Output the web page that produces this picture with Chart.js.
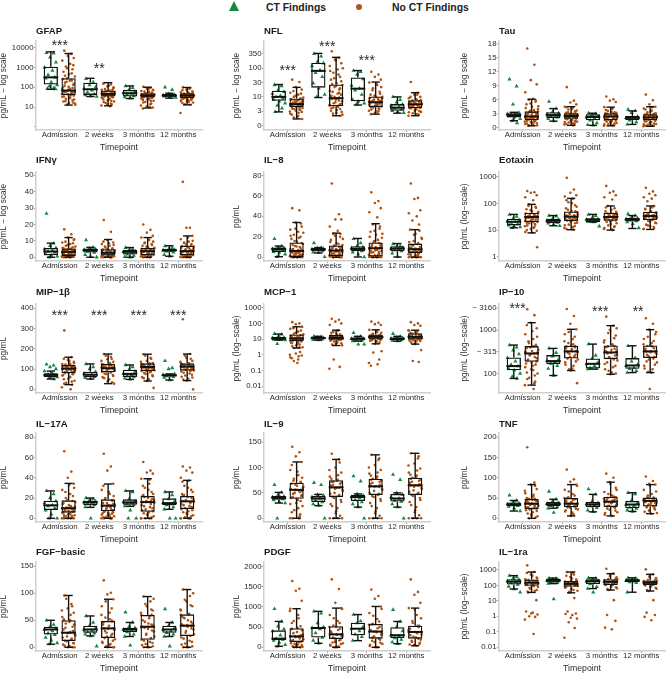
<!DOCTYPE html>
<html lang="en">
<head>
<meta charset="UTF-8" />
<title>Biomarkers by CT findings</title>
<script src="https://cdn.jsdelivr.net/npm/chart.js@4"></script>
<style>
  html, body { margin: 0; padding: 0; background: #fff; overflow: hidden; }
  #page { position: relative; width: 669px; height: 674px; overflow: hidden; }
  canvas { position: absolute; }
  .key { position: absolute; top: 2px; font: bold 10.4px/12px "Liberation Sans", sans-serif; color: #222; white-space: nowrap; }
  #tri { position: absolute; left: 229px; top: 1px; width: 0; height: 0; border-left: 5.5px solid transparent; border-right: 5.5px solid transparent; border-bottom: 10px solid #138a41; }
  #dot { position: absolute; left: 356px; top: 4px; width: 6.4px; height: 6.4px; border-radius: 50%; background: #b0522a; }
</style>
</head>
<body>
<div id="page">
  <div id="tri"></div><div class="key" style="left:266px">CT Findings</div>
  <div id="dot"></div><div class="key" style="left:392px">No CT Findings</div>
</div>
<script>
const timepoints = ["Admission", "2 weeks", "3 months", "12 months"];

// box stats per timepoint: [whisker low, q1, median, q3, whisker high]
const gfapCtBox = [[79,136,316,1080,6080],[34,41,79,170,282],[27,34,50,74,117],[28,33,38,46,50]];
const gfapNoBox = [[12.6,40,68,282,5000],[11.6,34,46,68,170],[9,30,38,50,100],[13,28,38,50,97]];
const gfapCt = [[5500,5200,3200,1800,1000,700,420,320,280,180,130,110,95,85,80],[270,180,130,100,85,70,55,45,40,36,34],[115,95,75,60,52,48,42,36,32,28],[100,75,46,42,40,38,37,36,35,33,30]];
const gfapNo = [[7000,4800,3800,3000,2200,1500,1100,800,600,450,350,280,220,170,130,100,85,75,68,60,52,46,40,34,28,24,20,17,14,13],[165,140,110,90,75,68,60,55,50,46,43,40,37,34,31,28,25,22,19,16,14,12,11],[105,95,85,75,65,58,50,46,42,40,38,36,34,32,30,28,26,24,21,18,15,12,10,8.5],[98,90,75,62,55,50,46,42,40,38,36,34,31,28,26,24,22,19,17,14,13,5]];
const gfapNo2 = [[260,230,190,150,120,105,92,80,72,66,62,56,50,44,38,33,30,26,22,19,16,15,900,500,380,1300,260,210,70,58],[150,120,100,82,72,64,58,52,48,44,42,39,36,33,30,27,24,21,18,15,13,47,53],[80,70,60,54,48,44,41,39,37,35,33,31,29,27,25,23,20,17,14,11,9.5,43,36],[85,70,58,52,48,44,41,39,37,35,33,30,27,25,23,20,18,16,45,38,34,29]];

const nflCtBox = [[3,7.3,10,16.5,27],[9.5,21,81,156,330],[5.2,7,19.4,48,83],[2.7,3.3,4.2,5.6,10]];
const nflNoBox = [[1.7,4.4,5.6,8.8,21.5],[2.2,4.7,9,27.3,240],[2.5,4.4,6.5,10.3,33],[2.2,4,5.5,7.7,14]];
const nflCt = [[26,24,17,15,13,11,10,9,8,7,6,5,4,3],[320,260,170,150,120,85,70,50,30,20,12,10],[83,75,60,42,25,20,17,12,8,7,6,5.5],[10,8,6.5,5.5,5,4.5,4,3.7,3.3,3,2.8]];
const nflNo = [[40,33,22,18,14,12,10,9,8,7.5,7,6.5,6,5.5,5.2,5,4.7,4.4,4.1,3.8,3.5,3.1,2.8,2.4,2,1.7],[390,230,190,150,120,90,70,50,40,30,26,22,18,15,12,10,9,8,7,6,5.4,5,4.5,4,3.5,3,2.6,2.2],[75,60,50,40,32,26,20,15,12,10,9,8,7.5,7,6.5,6,5.5,5,4.6,4.2,3.8,3.3,3,2.5],[33,14,12,10,9,8,7.5,7,6.5,6,5.6,5.2,5,4.6,4.2,4,3.7,3.3,3,2.7,2.4,2.2]];
const nflNo2 = [[16,13,11,9.5,8.5,7.8,7.2,6.8,6.2,5.8,5.4,5,4.8,4.5,4.2,3.9,3.6,3.3,3,2.6,2.2,1.9,6,5.5,7,8],[200,100,80,60,45,35,28,24,20,16,13,11,9.5,8.5,7.5,6.5,5.8,5.2,4.8,4.3,3.8,3.3,2.8,2.4,10,14],[28,22,17,13,11,10,9,8.5,8,7.2,6.8,6.2,5.8,5.3,4.8,4.4,4,3.6,3.2,2.8,6.5,7,5.5],[12,10,8.5,7.8,7.2,6.8,6.3,5.8,5.4,5,4.8,4.4,4,3.6,3.2,2.9,2.5,6,5.5,4.5,5.2]];

const tauCtBox = [[1.5,2.2,2.7,3.1,3.3],[1.4,2.1,2.7,3.3,4.1],[.5,1.6,2.3,2.9,3.1],[.7,1.6,2.1,2.5,3.6]];
const tauNoBox = [[.4,1.6,2.4,3.5,6.1],[.5,1.9,2.5,3.1,4.5],[.4,1.6,2.4,3.1,4.4],[.3,1.6,2.2,2.9,4.5]];
const tauCt = [[10.4,8.9,5,3.2,3,2.9,2.8,2.6,2.5,2.2,1.9,1.5,1],[5.6,4.1,3.4,3.1,2.9,2.7,2.4,2.2,1.9,1.4],[3.1,3,2.8,2.4,2.2,2,1.6,1,.6,.5],[3.9,3.6,3.2,2.4,2.1,1.9,1.6,1.2,.7]];
const tauNo = [[17,13.5,10.2,9.3,7.6,6.2,6,5.6,5,4.5,4,3.6,3.3,3,2.8,2.6,2.4,2.2,2,1.8,1.6,1.3,1.1,.9,.7,.5,.4],[8.7,5.8,5.4,5,4.5,4.2,3.9,3.5,3.2,3,2.8,2.6,2.4,2.2,2,1.9,1.7,1.5,1.3,1.1,.9,.7,.5],[6.7,6.1,5.8,5.5,4.4,4,3.6,3.3,3.1,2.8,2.6,2.4,2.2,2,1.8,1.6,1.4,1.2,1,.8,.6,.4],[7.1,5.9,5,4.5,4.1,3.7,3.3,3,2.8,2.6,2.4,2.2,2,1.8,1.6,1.4,1.2,1,.8,.6,.4,.3]];
const tauNo2 = [[5.8,5.2,4.6,4.2,3.8,3.4,3.1,2.9,2.7,2.5,2.3,2.1,1.9,1.7,1.5,1.4,1.2,1,.8,.6,.5,2.4,2.8,3.2,3.5,2,1.6],[4.4,4,3.7,3.3,3.1,2.9,2.7,2.5,2.3,2.1,2,1.8,1.6,1.4,1.2,1,.8,.6,2.6,3,2.4,2.2],[4.2,3.8,3.4,3.2,3,2.7,2.5,2.3,2.1,1.9,1.7,1.5,1.3,1.1,.9,.7,.5,2.6,2.4,2.9,3.1],[4.4,3.9,3.5,3.1,2.9,2.7,2.5,2.3,2.1,1.9,1.7,1.5,1.3,1.1,.9,.7,.5,.4,2.4,2.2,2.8,2.6]];

const ifnCtBox = [[0,1.2,3.5,5.7,8.6],[0,2.9,4.3,5.3,6],[0,1.6,3.3,4.5,5.9],[.6,3.3,4.3,5,7]];
const ifnNoBox = [[0,.8,3.3,5.3,12],[0,1,2.7,4.9,10.8],[0,1.2,3.7,5.7,12],[0,1.2,3.7,7,13]];
const ifnCt = [[26.6,8.5,7,5.7,5,4,3.5,2.8,2,1.2,.5,0],[10.5,6,5.5,5,4.6,4.2,3.5,2.9,1.5,.3,0],[5.8,5,4.4,3.8,3.3,2.6,1.8,1,.3,0],[6.8,5.8,5,4.6,4.3,4,3.6,3,1.5,.6]];
const ifnNo = [[17,14,12,10.5,9,8,7,6,5.5,5,4.5,4,3.6,3.3,3,2.6,2.2,1.8,1.4,1,.7,.4,.2,0,0],[22.7,15.5,10.5,9,8,7,6,5.2,4.7,4.2,3.6,3.1,2.7,2.3,1.9,1.5,1.2,.9,.6,.3,0,0,0],[20,16.7,15,13,12,10.5,9,8,7,6,5.5,5,4.4,3.9,3.5,3,2.5,2,1.5,1.2,.8,.4,0,0],[46,18,18,13,11,9.5,8.5,7.5,6.8,6,5.4,4.8,4.2,3.7,3.2,2.7,2.2,1.7,1.3,.9,.5,.2,0,0]];
const ifnNo2 = [[11,9.5,8.5,7.5,6.5,5.8,5.2,4.8,4.2,3.8,3.4,3.1,2.8,2.4,2,1.6,1.2,.9,.5,.3,.1,0,0,3.2,4.6],[9.5,8.5,7.5,6.5,5.5,4.8,4.3,3.9,3.4,2.9,2.5,2.1,1.7,1.3,1,.7,.4,.1,0,0,2.8,2.6,4.5],[11,9.5,8.5,7.5,6.5,5.7,5.2,4.7,4.1,3.7,3.2,2.8,2.3,1.8,1.3,1,.6,.2,0,0,3.8,3.4],[12,10,9,8,7.2,6.5,5.8,5,4.4,3.9,3.5,3,2.5,2,1.5,1.1,.7,.3,0,0,4,3.6,6.2]];

const il8CtBox = [[.6,5.2,7.9,9.5,11],[4.3,5.9,7.9,9.2,9.5],[.3,5.9,8.2,10.8,18.4],[.3,5.9,8.5,10.8,13.4]];
const il8NoBox = [[0,.3,6.2,14.4,34],[0,1.3,6.6,11.5,23.6],[0,.7,8.9,14.4,32.8],[0,4.3,7.9,13.4,27]];
const il8Ct = [[18,11,10,9.5,8.5,8,7.5,6.5,5.5,5,3,.6],[14,9.5,9.2,8.5,8,7.6,7,6,5,4.3,.5],[18,14,11,10,9,8.2,7.5,6,5,3,.3],[13,11,10.5,9.5,8.5,8,7,6,4,.5]];
const il8No = [[48,46,34,30,27,25,22,20,18,15,13,11,10,8,7,6,5,4,3,2.5,2,1,.6,.3,0,0,0],[72,42,37,37,30,26,23,20,17,14,12,11,10,9,8,7,6.5,5.5,5,4,3,2,1.5,1,.5,0,0],[63.6,55,53,48,44,39,32,28,25,22,19,16,14,12,11,9,8,7,6,5,3.5,2.5,1.5,.7,0,0,0],[72,58,57,46,43,40,36,32,27,23,19,16,14,12,10,9,8,7,6,5,4,3,2,1,0,0,0]];
const il8No2 = [[33,28,24,21,19,16,14,12,10.5,9,8,7,6.5,5.5,4.5,3.5,2.8,2.2,1.5,.8,.4,.2,0,0,6,5],[23,21,18,15,13,11.5,10,9,8,7.5,7,6,5.5,4.5,3.5,2.5,1.8,1.2,.7,.3,0,0,6.6,6.2],[30,26,23,20,17,15,13,11,10,9,8.5,7.5,6.5,5.5,4.5,3,2,1,.4,0,0,8.8,9.2],[26,22,18,15,13,11.5,10,9.5,8.5,7.5,6.5,5.5,4.5,3.5,2.5,1.5,.7,.3,0,0,8,7.6]];

const eotCtBox = [[12.2,15,20.5,26.6,38.7],[14.5,18,22.4,26.6,35],[20,20,24.4,28,38.7],[11.5,21,25,29,35]];
const eotNoBox = [[7.9,20,31,45,92],[10.3,21.6,32,50,153],[10,22.4,31,45,80],[10.6,23.7,33.5,49,80]];
const eotCt = [[38,32,27,24,22,20.5,19,17,15,14,13,12.2],[35,33,27,25,23,22,21,19,18,16,14.5],[38,34,28,26,25,24,23,22,21,20,14],[40,35,30,28,26,25,24,22,20,17,12]];
const eotNo = [[290,260,250,200,170,130,92,75,60,50,44,40,36,33,30,28,26,23,20,18,16,14,12,10,8,2.3],[900,330,250,200,180,150,110,85,65,52,46,40,36,33,30,27,24,21,19,16,14,12,10.5],[450,280,250,200,170,140,80,65,50,44,40,36,33,30,28,25,23,21,18,15,13,11,10],[380,280,230,200,170,150,120,80,62,50,45,40,36,33,30,27,24,21,18,15,13,11]];
const eotNo2 = [[80,68,56,48,42,38,35,32,30,27,25,22,20,19,17,15,13,11,9.5,8.5,31,29,33],[130,100,75,58,50,44,38,34,31,29,26,23,21,18,15,13,11,32,35,28,27],[70,58,48,42,38,35,32,30,27,25,23,20,17,14,12,10.5,31,33,29,36],[70,60,50,44,38,35,32,29,26,24,22,19,16,14,12,11,34,31,28,36]];

const mipCtBox = [[51,59,71,79,90],[51,59,72,87,125],[49,61,76,97,120],[46,63,69,74,76]];
const mipNoBox = [[23,79,102,120,158],[28,84,104,125,174],[41,90,110,128,173],[43,92,112,128,174]];
const mipCt = [[123,118,110,100,90,78,74,70,67,64,60,56,51],[125,110,100,86,78,73,68,62,57,52],[120,110,98,88,78,72,66,60,54,50],[140,105,100,76,72,69,66,62,58,46]];
const mipNo = [[290,158,145,135,125,118,112,106,102,98,94,90,85,80,76,70,62,52,42,32,23,10,0],[174,160,148,135,125,118,112,108,104,100,95,90,85,78,70,60,50,40,28],[173,155,140,130,124,118,113,110,106,102,97,92,88,80,70,60,50,41,7],[345,174,155,140,130,124,118,114,110,105,100,95,90,82,72,62,52,43,0]];
const mipNo2 = [[150,140,130,122,116,110,104,100,96,92,88,84,80,74,68,60,50,38,28,108,102,98,115,126],[165,150,140,130,122,116,110,106,102,97,92,87,82,76,66,55,45,35,108,104,112,120],[165,150,135,128,122,116,112,108,104,100,94,90,84,76,65,55,46,110,114,106,118],[165,150,135,128,122,116,112,108,103,98,93,88,78,68,58,48,112,110,115,120]];

const mcpCtBox = [[8.6,9,11,13.4,21],[8.6,10,11.6,13.4,15],[7.4,8.2,10.6,12.8,15],[7.4,8.6,10.6,12.8,15]];
const mcpNoBox = [[2.7,7.5,11,20,61],[3.9,9,12,18,37],[5,9.5,14,20,39],[4.8,9.5,14,24,37]];
const mcpCt = [[22,20,14,12.5,12,11,10.5,10,9.5,9,8.6,5],[15,14,13,12,11.5,11,10.5,10,9,8.6],[25,15,13,11.5,10.6,10,9,8,7.4,4.6,4.6],[22,15,13,12,11,10.5,10,9,8,7.4]];
const mcpNo = [[120,100,90,61,45,30,22,18,15,13,11,10,9,8,7,6,5,4,3,2.7,1.5,1,.8,.6,.3],[200,170,130,100,80,37,28,20,17,15,13,12,11,10,9,8,6,5,4,.5,.17,.13],[130,110,90,80,39,28,22,18,16,14,13,12,11,10,9,8,7,5,1.7,1.4,.5,.3,.25,.2],[120,100,80,70,37,28,22,18,16,14,13,12,11,10,9,8,7,4.8,2,.4,.35]];
const mcpNo2 = [[60,50,35,25,20,17,14,12,11.5,10.5,9.5,8.5,7.5,6.5,5.5,4.5,3.5,3,1.2,.9,.7,.5,.4,11,12.5],[35,25,20,16,14,12.5,11.5,10.5,9.5,8.5,7,5.5,4.5,12,13,11,10,9],[35,25,20,17,15,13.5,12.5,11.5,10.5,9.5,8.5,7.5,6,14,14.5,13,11],[35,30,25,20,17,15,13.5,12.5,11.5,10.5,9.5,8.5,7.5,6,5,14,14.5,13]];

const ip10CtBox = [[77,119,148,234,451],[90,164,193,265,378],[126,130,167,222,475],[105,128,153,226,434]];
const ip10NoBox = [[54,186,289,427,1476],[117,222,322,434,1040],[96,214,305,443,1260],[105,226,322,443,1020]];
const ip10Ct = [[450,400,340,280,230,190,160,148,130,120,100,85,77],[378,300,250,210,195,185,170,150,130,90],[475,260,220,180,165,150,135,128,126],[434,230,190,160,150,135,128,115,105]];
const ip10No = [[3000,2200,1476,1100,800,620,500,430,380,330,300,270,240,210,190,170,150,125,100,80,65,54,44],[3050,2100,1400,1040,800,620,500,430,380,340,310,280,250,220,190,160,130,117,60],[2030,1260,1000,750,580,470,420,370,330,300,270,240,210,180,150,125,105,96],[1860,1400,1020,800,620,500,430,380,340,310,280,250,220,190,160,130,105,44]];
const ip10No2 = [[1300,950,700,550,460,400,350,310,290,260,225,200,180,160,140,120,105,90,75,60,280,300,320,420],[900,700,550,470,420,370,330,300,270,240,210,180,150,125,330,320,440,400],[1100,850,650,520,450,400,350,320,290,260,230,200,165,140,115,100,310,300,430],[900,700,560,470,420,370,330,300,270,240,210,180,150,125,110,325,320,440]];

const il17CtBox = [[0,8.2,12.8,17.4,27],[10.8,12.8,15.7,17.4,20],[11.8,13.4,15.7,18.7,27],[8.9,13,15,19.7,26]];
const il17NoBox = [[0,5.6,10,17.7,34.4],[0,6.9,12.5,18.7,33.8],[0,6.5,16,22,39],[0,9.2,16.7,22,37.4]];
const il17Ct = [[27,24,20,17,15,13,12,10,8,4,0,0],[20,19,18,17,16,15.5,14,13,11,0],[27,26,19,17,16,15,14,13,12,8,0,0],[26,23,19,17,15,14,13,11,9,0,0]];
const il17No = [[66,46,40,34,28,24,20,17,15,13,11.5,10,9,8,7,6,5,4,3,2,1,0,0,0],[63.6,51,47,34,28,24,20,18,15,13,12,10,9,7,6,5,4,3,2,1,0,0,0],[55.5,47,45,44,39,34,30,26,22,20,18,16,14,12,10,8,6,4,2,0,0,0],[51,50,47,45,40,37,32,28,24,21,19,17,15,13,11,9,7,5,3,1,0,0,0]];
const il17No2 = [[33,30,26,22,18,16,14,12,10.5,9.5,8.5,7.5,6.5,5.5,4.5,3.5,2.5,1.5,.5,0,0,10,11],[32,26,22,19,17,15,13.5,12,11,9.5,8,6.5,5.5,4.5,3.5,2,1,0,0,12.5,12,14],[38,32,28,24,21,19,17,15.5,13,11,9,7,5,3,1,0,0,16,17,23],[36,30,26,23,20,18,16.5,14,12,10,8,6,4,2,0,0,17,16,22]];

const il9CtBox = [[30,36.7,40.6,44,51],[25,32,39,44,47],[22,34,42,46,48],[22,33,39,48,50]];
const il9NoBox = [[0,38.6,56,70,111],[0,42,61,75,116],[0,46,63,78,125],[0,46,65,80,128]];
const il9Ct = [[66,51,46,43,42,41,40,38,36,33,30,0],[70,66,47,45,42,39,36,32,28,25,0],[83,73,48,45,42,40,36,32,28,22,0],[86,76,50,47,42,39,35,33,28,22,0]];
const il9No = [[141,130,122,111,95,85,78,72,68,64,60,56,52,48,44,40,36,30,24,16,8,0,0],[127,116,100,90,82,76,72,68,64,60,56,50,46,42,36,28,20,10,0,0],[125,115,105,95,88,82,78,72,68,63,58,54,48,44,38,30,20,10,0,0],[128,118,108,98,90,84,80,74,70,65,60,55,50,46,40,32,22,12,0,0]];
const il9No2 = [[105,92,80,74,70,66,62,58,55,50,46,42,38,34,28,20,12,4,0,0,56,54],[110,95,85,78,74,70,66,62,58,54,48,44,40,32,24,14,5,0,0,61,60,72],[118,100,90,84,78,74,70,66,62,56,50,46,42,34,24,14,5,0,0,63,62,76],[122,104,94,86,80,76,72,67,62,58,52,48,44,36,26,16,6,0,0,65,64,78]];

const tnfCtBox = [[18,29.5,34,39,44],[25,30,35,41,47],[16,27,34,40,59],[17,25,34,43,63]];
const tnfNoBox = [[0,23,36,48,83],[6,27,36,50,83],[6,28,41,53,89],[11.5,29,43,51,83]];
const tnfCt = [[57,44,40,37,35,34,33,31,29,25,18],[66,47,42,38,36,34,31,28,25,14],[72,59,42,38,35,33,30,26,20,16],[63,60,44,38,34,31,27,24,20,17]];
const tnfNo = [[175,88,83,72,62,54,48,44,40,37,35,33,30,27,24,20,15,10,5,0],[120,96,90,83,70,60,52,47,43,39,36,33,30,27,24,20,14,6],[110,100,89,75,65,56,50,46,42,38,35,31,28,24,19,13,6],[103,92,85,83,70,60,52,48,44,41,38,34,30,27,22,16,11]];
const tnfNo2 = [[80,68,58,50,46,42,39,36,34,31,28,25,22,18,12,7,2,36,35,44,48],[80,66,56,50,45,41,38,35,32,29,26,22,17,10,36,34,50,40],[85,70,60,53,48,44,40,37,33,30,26,21,15,9,41,40,52,46],[80,66,56,51,46,43,40,36,32,29,25,19,13,43,42,50,38]];

const fgfCtBox = [[5.6,23.5,33,38,50],[21,27,33,40,58],[20,28,33,36,46],[20,27,33,40,46]];
const fgfNoBox = [[0,11.7,27,50,96],[0,17,35,49,89],[0,14,38,60,94],[0,21,40,61,107]];
const fgfCt = [[50,42,38,35,33,30,26,23,18,13,8,6],[58,46,40,35,33,31,28,26,24,21,2],[65,46,38,36,33,31,28,24,20,3.5],[71,46,40,36,33,30,27,24,20,2]];
const fgfNo = [[96,80,72,64,56,50,44,38,33,27,24,20,16,12,8,5,2,0,0],[124,101,98,89,76,64,55,49,42,36,32,27,22,17,12,8,4,0,0],[94,85,76,68,60,54,47,42,38,34,29,23,17,12,8,4,0,0],[107,95,85,76,68,61,54,47,42,38,33,27,21,16,10,5,0,0]];
const fgfNo2 = [[90,76,68,60,52,47,42,36,30,26,22,18,14,11,7,3,1,0,27,28,50],[85,72,60,52,46,40,35,30,25,20,15,10,6,2,0,35,34,48],[90,80,70,64,58,50,44,40,36,31,25,20,14,10,6,2,0,38,60,37],[100,88,78,70,62,56,50,44,40,35,30,24,18,12,7,2,0,41,40,60]];

const pdgfCtBox = [[25,173,214,420,640],[100,240,477,500,890],[165,300,460,610,810],[90,230,300,495,640]];
const pdgfNoBox = [[0,130,270,470,955],[0,205,320,520,970],[0,215,390,575,1010],[40,215,380,535,970]];
const pdgfCt = [[950,640,520,450,400,300,214,190,170,120,60,25],[890,840,600,500,480,450,350,240,170,100],[810,650,600,500,460,400,320,260,165],[930,640,500,400,300,270,230,190,130,90]];
const pdgfNo = [[1640,1450,1400,1150,955,800,650,520,450,380,320,270,220,180,140,100,70,40,15,0,0],[1680,1440,1100,970,800,650,540,460,390,320,270,220,170,120,80,40,0,0],[1430,1270,1200,1010,850,700,580,500,430,390,330,270,215,160,110,60,0,0],[1680,1370,1300,1100,970,800,650,535,460,380,320,260,215,160,110,70,40]];
const pdgfNo2 = [[900,720,600,480,420,350,300,250,200,160,120,85,55,25,5,0,270,260,460,280],[950,720,600,500,430,360,310,280,240,190,140,100,60,20,0,320,330,510],[950,780,640,560,470,410,370,310,240,190,130,85,35,0,390,380,570],[930,720,600,500,420,350,300,240,190,130,90,55,380,370,530]];

const ra1CtBox = [[58,115,175,250,430],[130,155,210,260,300],[62,120,190,250,310],[36,165,210,250,310]];
const ra1NoBox = [[35,95,150,240,740],[33,82,125,190,740],[50,105,170,250,580],[43,105,150,210,520]];
const ra1Ct = [[430,350,280,240,190,170,140,115,85,58,35],[300,280,250,220,205,190,170,150,130,13],[310,280,250,210,180,150,120,80,62,36],[310,280,240,215,200,185,165,150,36]];
const ra1No = [[2000,740,500,320,240,200,170,150,125,100,80,60,45,35,11,2,1.7,1.5,1.3,1,.9,.6,.07],[740,500,350,240,180,150,125,100,80,60,45,33,15,2,1.5,1.4,1.2,.8,.7,.4,.17,.04],[1200,580,400,280,220,180,155,130,105,85,65,50,11,1.2,.5,.18,.14],[1100,520,350,240,190,160,140,120,100,80,60,43,11,1.7,1.2,.9,.55]];
const ra1No2 = [[640,420,280,220,185,160,135,110,90,70,50,40,150,145,240,130,105],[650,420,280,200,165,135,110,90,70,50,38,125,120,190,150,85],[520,340,260,200,165,140,115,95,75,58,170,165,250,120,110],[480,300,220,180,155,130,110,90,70,50,150,145,210,125,105]];

// significance marks: [timepoint position, y value, text]
const gfapStars = [[1,17000,"***"],[2,1200,"**"]];
const nflStars = [[1,100,"***"],[2,705,"***"],[3,221,"***"]];
const mipStars = [[1,375,"***"],[2,375,"***"],[3,375,"***"],[4,375,"***"]];
const ip10Stars = [[.87,3570,"***"],[2.96,3100,"***"],[3.92,3100,"**"]];

// axis ticks
const decadesTicks = [1,10,100,1000,10000];
const decadesLabels = ["","10","100","1000","10000"];
const nflTicks = [1,3.16,10,31.6,100,316];
const nflLabels = ["0","3","10","30","100","350"];
const ip10Ticks = [100,316,1000,3160];
const ip10Labels = ["100","~ 315","1000","~ 3160"];
const eotTicks = [1,10,100,1000];
const mcpTicks = [.01,.1,1,10,100,1000];
const ra1Ticks = [.01,.1,1,10,100,1000];
const smallLogLabels = ["0.01","0.1","1","10","100","1000"];

const LOGT = "pg/mL \u2212 log scale", PGML = "pg/mL", LOG2 = "pg/mL (log\u2212scale)";
const panels = [
  { title:"GFAP", yt:LOGT, log:true, min:.73, max:21400, ticks:decadesTicks, labels:decadesLabels, ct:gfapCt, no:gfapNo, no2:gfapNo2, ctBox:gfapCtBox, noBox:gfapNoBox, stars:gfapStars },
  { title:"NFL", yt:LOGT, log:true, min:.745, max:893, ticks:nflTicks, labels:nflLabels, ct:nflCt, no:nflNo, no2:nflNo2, ctBox:nflCtBox, noBox:nflNoBox, stars:nflStars },
  { title:"Tau", yt:LOGT, min:-.5, max:18.6, ticks:[0,3,6,9,12,15,18], ct:tauCt, no:tauNo, no2:tauNo2, ctBox:tauCtBox, noBox:tauNoBox },
  { title:"IFN\u03b3", yt:LOGT, min:-2.3, max:52, ticks:[0,10,20,30,40,50], ct:ifnCt, no:ifnNo, no2:ifnNo2, ctBox:ifnCtBox, noBox:ifnNoBox },
  { title:"IL\u22128", yt:PGML, min:-3.6, max:83.3, ticks:[0,20,40,60,80], ct:il8Ct, no:il8No, no2:il8No2, ctBox:il8CtBox, noBox:il8NoBox },
  { title:"Eotaxin", yt:LOG2, log:true, min:.727, max:1488, ticks:eotTicks, labels:["1","10","100","1000"], ct:eotCt, no:eotNo, no2:eotNo2, ctBox:eotCtBox, noBox:eotNoBox },
  { title:"MIP\u22121\u03b2", yt:PGML, min:-18, max:420, ticks:[0,100,200,300,400], ct:mipCt, no:mipNo, no2:mipNo2, ctBox:mipCtBox, noBox:mipNoBox, stars:mipStars },
  { title:"MCP\u22121", yt:LOG2, log:true, min:.0037, max:1722, ticks:mcpTicks, labels:smallLogLabels, ct:mcpCt, no:mcpNo, no2:mcpNo2, ctBox:mcpCtBox, noBox:mcpNoBox },
  { title:"IP\u221210", yt:LOG2, log:true, min:35.6, max:3970, ticks:ip10Ticks, labels:ip10Labels, ct:ip10Ct, no:ip10No, no2:ip10No2, ctBox:ip10CtBox, noBox:ip10NoBox, stars:ip10Stars },
  { title:"IL\u221217A", yt:PGML, min:-3.6, max:84, ticks:[0,20,40,60,80], ct:il17Ct, no:il17No, no2:il17No2, ctBox:il17CtBox, noBox:il17NoBox },
  { title:"IL\u22129", yt:PGML, min:-7.3, max:168, ticks:[0,50,100,150], ct:il9Ct, no:il9No, no2:il9No2, ctBox:il9CtBox, noBox:il9NoBox },
  { title:"TNF", yt:PGML, min:-9, max:210, ticks:[0,50,100,150,200], ct:tnfCt, no:tnfNo, no2:tnfNo2, ctBox:tnfCtBox, noBox:tnfNoBox },
  { title:"FGF\u2212basic", yt:PGML, min:-6.9, max:158, ticks:[0,50,100,150], ct:fgfCt, no:fgfNo, no2:fgfNo2, ctBox:fgfCtBox, noBox:fgfNoBox },
  { title:"PDGF", yt:PGML, min:-91, max:2110, ticks:[0,500,1000,1500,2000], ct:pdgfCt, no:pdgfNo, no2:pdgfNo2, ctBox:pdgfCtBox, noBox:pdgfNoBox },
  { title:"IL\u22121ra", yt:LOG2, log:true, min:.0055, max:3300, ticks:ra1Ticks, labels:smallLogLabels, ct:ra1Ct, no:ra1No, no2:ra1No2, ctBox:ra1CtBox, noBox:ra1NoBox },
];

// page layout
const colLeft = [-1, 232, 460], axisW = [37, 32, 39], PLOT_W = 170;
const rowTop = [41, 172, 304, 433, 562], titleGap = [4, 6, 6, 3, 4], PLOT_H = 89, XAXIS_H = 23;

const DODGE = 0.225, CAP = 0.105;
const JITTER = [-.11,.07,-.02,.13,-.16,.04,-.07,.1,-.13,.01,.16,-.04,.08,-.09,.12,-.14,.03,-.01,.15,-.06,.09,-.17,.05,-.12,.02,.14,-.08,.11,-.03,.17,-.15,.06,-.05,.13,-.1,0,.1,-.16,.04,-.12,.08];
const INK = "#111", TEXT = "#2a2a2a";
const GREEN = "#138a41", BROWN = "#b0520f";
const FONT = "'Liberation Sans', Arial, sans-serif";

const jittered = (groups, side) => groups.flatMap((vals, g) =>
  vals.map((v, i) => ({ x: g + 1 + side * DODGE + JITTER[i % JITTER.length], y: v })));
const boxBars = (boxes, side) => boxes.map((b, g) => ({ x: g + 1 + side * DODGE, y: [b[1], b[3]] }));

// whiskers and medians on top of the bar boxes
const boxLines = {
  id: "boxLines",
  afterDatasetsDraw(chart, args, opts) {
    const { ctx, scales: { x, y } } = chart;
    const seg = (x1, y1, x2, y2) => { ctx.beginPath(); ctx.moveTo(x.getPixelForValue(x1), y.getPixelForValue(y1)); ctx.lineTo(x.getPixelForValue(x2), y.getPixelForValue(y2)); ctx.stroke(); };
    ctx.save();
    ctx.strokeStyle = INK;
    [[opts.ctBox, -1], [opts.noBox, 1]].forEach(([boxes, side]) => boxes.forEach((b, g) => {
      const c = g + 1 + side * DODGE;
      ctx.lineWidth = 1.4;
      seg(c, b[0], c, b[1]); seg(c, b[3], c, b[4]);
      seg(c - CAP, b[0], c + CAP, b[0]); seg(c - CAP, b[4], c + CAP, b[4]);
      ctx.lineWidth = 2;
      seg(c - .1875, b[2], c + .1875, b[2]);
    }));
    (opts.stars || []).forEach(([pos, val, txt]) => {
      ctx.fillStyle = TEXT;
      ctx.font = "14px " + FONT;
      ctx.textAlign = "center";
      ctx.textBaseline = "middle";
      ctx.fillText(txt, x.getPixelForValue(pos), y.getPixelForValue(val) + 3);
    });
    ctx.restore();
  }
};

const page = document.getElementById("page");
panels.forEach((p, i) => {
  const col = i % 3, row = Math.floor(i / 3);
  const gap = titleGap[row];
  const cv = document.createElement("canvas");
  cv.width = axisW[col] + PLOT_W;
  cv.height = 12 + gap + PLOT_H + XAXIS_H;
  cv.style.left = colLeft[col] + "px";
  cv.style.top = (rowTop[row] - 12 - gap) + "px";
  page.appendChild(cv);

  new Chart(cv, {
    type: "scatter",
    plugins: [boxLines],
    data: {
      datasets: [
        { type: "bar", label: "Boxes", data: boxBars(p.ctBox, -1).concat(boxBars(p.noBox, 1)), grouped: false, barPercentage: 1, maxBarThickness: 15, backgroundColor: "rgba(255,255,255,0)", borderColor: INK, borderWidth: 1.3, borderSkipped: false, order: 0 },
        { label: "CT Findings", data: jittered(p.ct, -1), pointStyle: "triangle", pointRadius: 2.4, pointBorderWidth: 0, backgroundColor: GREEN, order: 1 },
        { label: "No CT Findings", data: jittered(p.no.map((v, g) => v.concat(p.no2[g])), 1), pointStyle: "circle", pointRadius: 1.3, pointBorderWidth: 0, backgroundColor: BROWN, order: 2 },
      ],
    },
    options: {
      responsive: false,
      animation: false,
      layout: { padding: 0 },
      plugins: {
        legend: { display: false },
        tooltip: { enabled: false },
        title: { display: true, text: p.title, align: "start", fullSize: false, color: "#1c1c1c", padding: { top: 0, bottom: gap }, font: { family: FONT, size: 9.6, weight: "bold", lineHeight: 1.25 } },
        boxLines: { ctBox: p.ctBox, noBox: p.noBox, stars: p.stars },
      },
      scales: {
        x: {
          type: "linear", min: .4, max: 4.6, offset: false,
          afterFit: s => { s.height = XAXIS_H; },
          afterBuildTicks: s => { s.ticks = timepoints.map((t, k) => ({ value: k + 1 })); },
          grid: { offset: false, drawOnChartArea: false, tickLength: 2, color: "#999", tickWidth: 1 },
          border: { color: "#cfcfcf", width: 1.5 },
          ticks: { autoSkip: false, maxRotation: 0, padding: -1.5, color: TEXT, font: { family: FONT, size: 7.8 }, callback: (v, k) => timepoints[k] },
          title: { display: true, text: "Timepoint", color: TEXT, padding: 0, font: { family: FONT, size: 8.7 } },
        },
        y: {
          type: p.log ? "logarithmic" : "linear", min: p.min, max: p.max,
          afterFit: s => { s.width = axisW[col]; },
          afterBuildTicks: s => { s.ticks = p.ticks.map(v => ({ value: v })); },
          grid: { drawOnChartArea: false, tickLength: 2, color: "#999", tickWidth: 1 },
          border: { color: "#cfcfcf", width: 1.5 },
          ticks: { autoSkip: false, padding: 0.5, color: TEXT, font: { family: FONT, size: 7.8 }, callback: (v, k) => p.labels ? p.labels[k] : String(p.ticks[k]) },
          title: { display: true, text: p.yt, color: TEXT, padding: 0, font: { family: FONT, size: 8.3 } },
        },
      },
    },
  });
});
</script>
</body>
</html>
